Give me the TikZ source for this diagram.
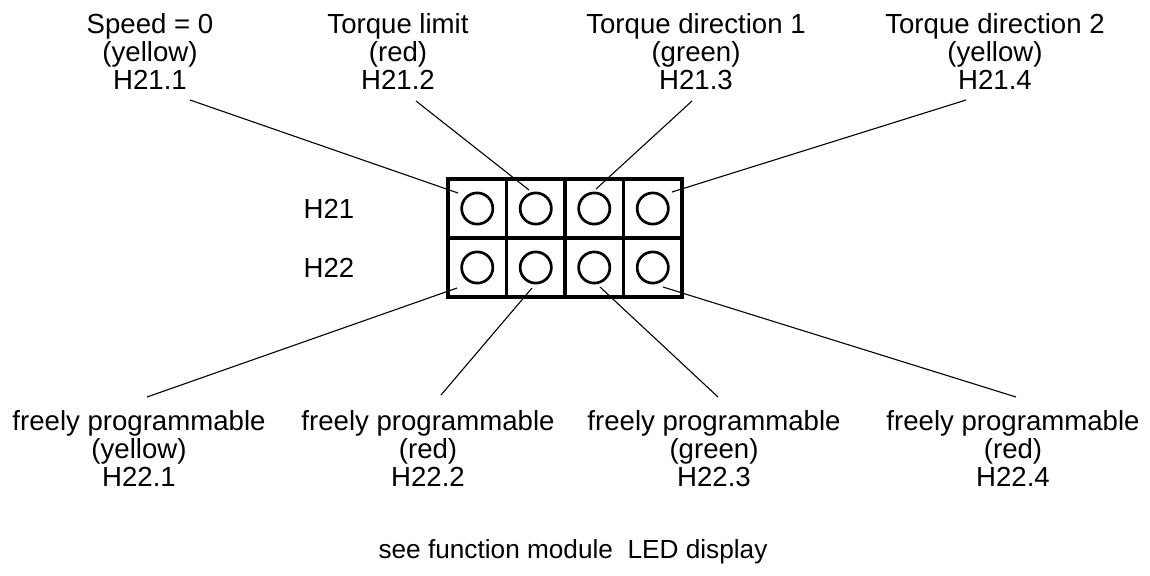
\documentclass[tikz,border=0pt]{standalone}
\usepackage{fontspec}
\setmainfont{Liberation Sans}
\begin{document}
\begin{tikzpicture}[x=0.5pt,y=-0.5pt,
  txt/.style={inner sep=0pt, font=\fontsize{13.8pt}{14pt}\selectfont},
  lbl/.style={txt, align=center, anchor=north},
  cell/.style={draw, line width=1.6pt, minimum width=29.25pt, minimum height=29.5pt, inner sep=0pt},
  led/.style={draw, circle, line width=1.35pt, minimum size=15.6pt, inner sep=0pt},
  conn/.style={line width=0.55pt}]
\useasboundingbox (0,0) rectangle (1150,575);
% LED cells
\foreach \c/\x in {1/477.25,2/535.75,3/594.25,4/652.75}{
  \node[cell] (ca\c) at (\x,208.5) {};
  \node[cell] (cb\c) at (\x,267.5) {};
  \node[led] (la\c) at (ca\c) {};
  \node[led] (lb\c) at (cb\c) {};
}
% row labels
\node[txt, anchor=base] (h21) at (329,218) {H21};
\node[txt, anchor=base] (h22) at (329,277) {H22};
% top labels
\node[lbl] (t1) at (150,13) {Speed = 0\\(yellow)\\H21.1};
\node[lbl] (t2) at (398,13) {Torque limit\\(red)\\H21.2};
\node[lbl] (t3) at (696,13) {Torque direction 1\\(green)\\H21.3};
\node[lbl] (t4) at (995,13) {Torque direction 2\\(yellow)\\H21.4};
% bottom labels
\node[lbl] (b1) at (139,410) {freely programmable\\(yellow)\\H22.1};
\node[lbl] (b2) at (428,410) {freely programmable\\(red)\\H22.2};
\node[lbl] (b3) at (714,410) {freely programmable\\(green)\\H22.3};
\node[lbl] (b4) at (1013,410) {freely programmable\\(red)\\H22.4};
% footer
\node[txt, font=\fontsize{13.1pt}{14pt}\selectfont, anchor=base] (foot) at (573,558) {see function module\ \ LED display};
% connector end points
\coordinate (s1) at (190,100); \coordinate (e1) at (458,193);
\coordinate (s2) at (416,101); \coordinate (e2) at (529,190);
\coordinate (s3) at (692,101); \coordinate (e3) at (596,189);
\coordinate (s4) at (966,100); \coordinate (e4) at (672,192);
\coordinate (g1) at (147,397); \coordinate (f1) at (457,288);
\coordinate (g2) at (441,395); \coordinate (f2) at (532,288);
\coordinate (g3) at (718,397); \coordinate (f3) at (600,287);
\coordinate (g4) at (1016,397); \coordinate (f4) at (663,287);
\foreach \i in {1,2,3,4}{
  \draw[conn] (s\i) -- (e\i);
  \draw[conn] (g\i) -- (f\i);
}
\end{tikzpicture}
\end{document}
